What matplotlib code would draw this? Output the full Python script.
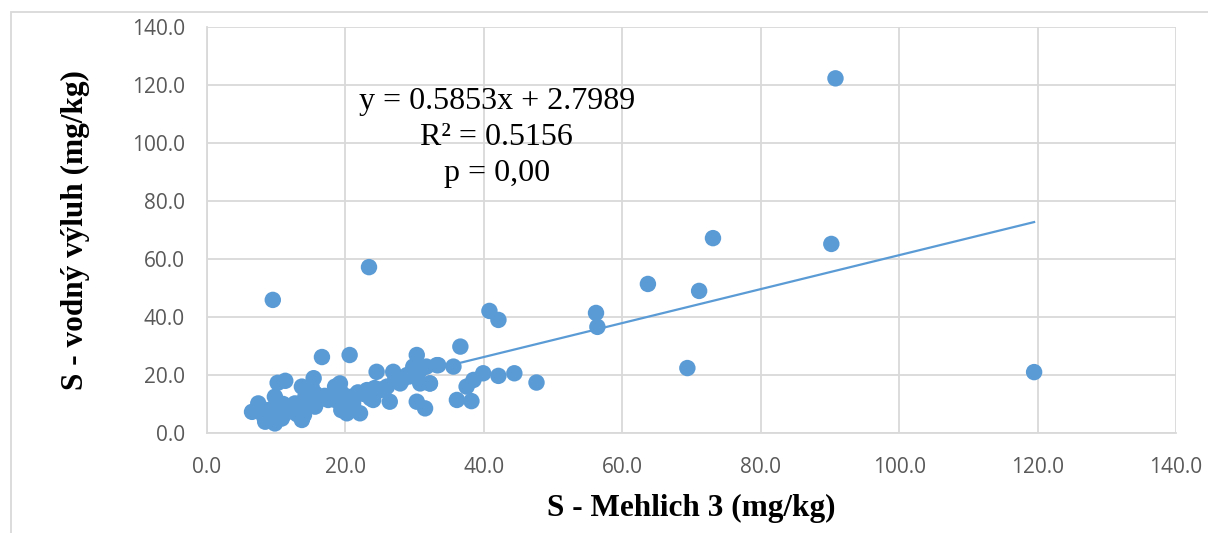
import matplotlib
matplotlib.use("Agg")
import matplotlib.pyplot as plt
from matplotlib.patches import Rectangle
import numpy as np

# S - Mehlich 3 (x) vs S - water extract (y), mg/kg
mehlich3 = [
    90.8, 73.1, 90.2, 63.7, 71.1, 56.2, 56.4, 69.4, 119.5,
    9.5, 23.4, 40.8, 42.1, 36.6, 16.6, 20.6,
    47.6, 44.4, 42.1, 39.9, 38.5, 37.5, 36.1, 38.2, 33.4, 35.6, 32.2,
    30.3, 29.8, 30.8, 31.7, 30.8, 32.2, 30.3, 31.5, 33.2,
    28.9, 27.9, 26.0, 25.0, 26.9, 26.4, 24.5, 24.0, 23.1, 22.1, 21.1, 21.1, 20.2,
    19.2, 19.2, 18.3, 19.4, 18.5, 18.5, 17.5,
    10.2, 11.3, 15.4, 13.7, 9.8, 7.4, 6.5, 8.4, 9.8, 13.7, 11.3,
    15.6, 15.6, 12.7, 14.2, 15.1, 8.9, 10.3, 7.8, 9.2, 12.0, 13.0,
    14.6, 16.8, 22.6, 24.2, 27.2, 29.2, 19.8, 21.8, 23.6, 25.6, 28.1,
    11.0, 12.4, 8.2, 10.8, 14.0, 17.0,
]
vodny_vyluh = [
    122.3, 67.2, 65.2, 51.4, 49.0, 41.4, 36.6, 22.4, 21.0,
    45.9, 57.2, 42.1, 39.0, 29.8, 26.2, 26.9,
    17.4, 20.6, 19.7, 20.6, 18.3, 16.0, 11.4, 11.0, 23.4, 22.9, 17.1,
    26.9, 22.9, 21.7, 22.9, 17.1, 17.1, 10.8, 8.5, 23.4,
    20.0, 17.1, 16.0, 14.8, 21.1, 10.8, 21.1, 11.4, 14.8, 6.8, 10.2, 12.5, 6.8,
    17.1, 14.8, 12.5, 7.9, 16.0, 11.4, 11.4,
    17.3, 18.0, 18.9, 16.0, 12.5, 10.2, 7.3, 3.9, 3.3, 4.5, 6.8,
    13.7, 9.1, 10.2, 12.5, 16.0, 7.9, 9.1, 8.5, 6.0, 8.0, 6.5,
    10.5, 12.0, 13.5, 15.5, 18.5, 19.5, 13.0, 14.0, 12.0, 15.0, 18.0,
    10.0, 8.8, 5.8, 5.0, 6.2, 12.8,
]

# trendline shown in the chart
slope = 0.5853
intercept = 2.7989
r2 = 0.5156

ticks = [0, 20, 40, 60, 80, 100, 120, 140]
blue = "#5B9BD5"
grid = "#D9D9D9"
tick_col = "#595959"

fig = plt.figure(figsize=(12.08, 5.33), dpi=100)
ax = fig.add_axes([0.1714, 0.1876, 0.8021, 0.7617])

x = np.array(mehlich3)
y = np.array(vodny_vyluh)
ax.scatter(x, y, s=140, color=blue, edgecolors="none", zorder=3)

xs = np.array([x.min(), x.max()])
ax.plot(xs, slope * xs + intercept, color=blue, lw=1.6, zorder=2)

ax.set_xlim(0, 140)
ax.set_ylim(0, 140)
ax.set_xticks(ticks)
ax.set_yticks(ticks)
ax.set_xticklabels([f"{t:.1f}" for t in ticks])
ax.set_yticklabels([f"{t:.1f}" for t in ticks])
ax.tick_params(length=0, colors=tick_col, labelsize=15)
ax.tick_params(axis="x", pad=17)
ax.tick_params(axis="y", pad=16)
for lab in ax.get_xticklabels() + ax.get_yticklabels():
    lab.set_family("Open Sans")
ax.grid(True, color=grid, lw=1.3, zorder=0)
ax.set_axisbelow(True)
for s in ["top", "right"]:
    ax.spines[s].set_visible(False)
for s in ["left", "bottom"]:
    ax.spines[s].set_color(grid)
    ax.spines[s].set_linewidth(1.3)

ax.set_xlabel("S - Mehlich 3 (mg/kg)", family="Liberation Serif",
              fontweight="bold", fontsize=22.5, labelpad=12)
ax.set_ylabel("S - vodný výluh (mg/kg)", family="Liberation Serif",
              fontweight="bold", fontsize=22.5, labelpad=30)

ax.text(0.299, 0.728, f"y = {slope}x + {intercept}\nR² = {r2}\np = 0,00",
        transform=ax.transAxes, ha="center", va="center",
        family="Liberation Serif", fontsize=23, linespacing=1.3)

fig.patches.append(Rectangle((11 / 1208, -0.1), 1.2, 1 - 12 / 533 + 0.1,
                             transform=fig.transFigure, fill=False,
                             edgecolor=grid, lw=1.3))

fig.savefig("out.png", dpi=100)
